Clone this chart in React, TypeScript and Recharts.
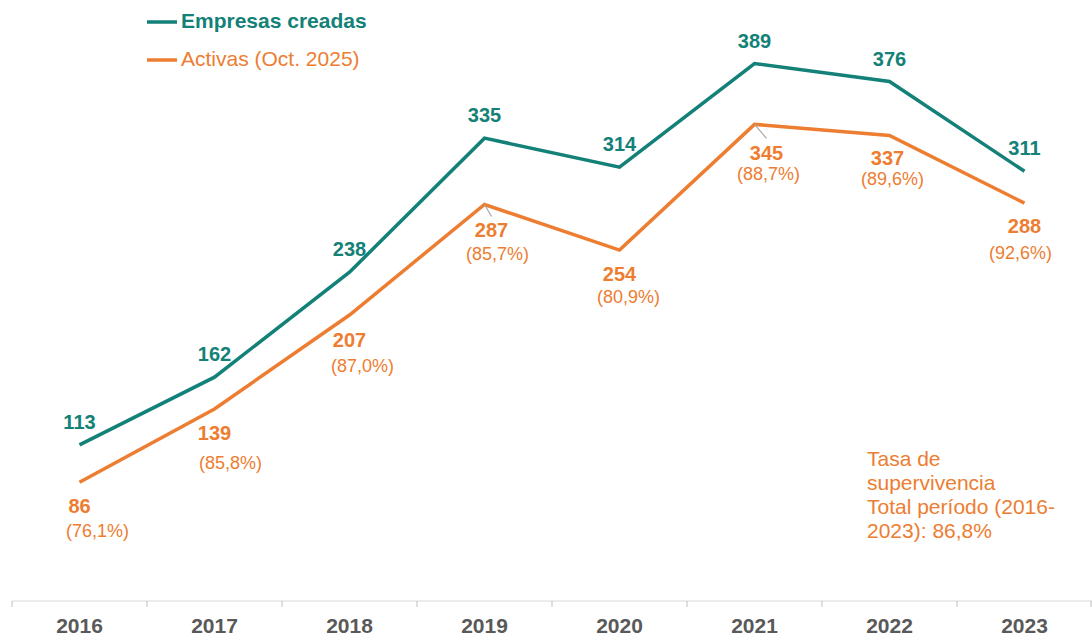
import { LineChart, Line, XAxis, YAxis, LabelList } from 'recharts';

const years = ['2016', '2017', '2018', '2019', '2020', '2021', '2022', '2023'];
const created = [113, 162, 238, 335, 314, 389, 376, 311];
const active = [86, 139, 207, 287, 254, 345, 337, 288];

const TEAL = '#138178';
const ORANGE = '#ED7D31';
const GREY = '#595959';
const FONT = '"Liberation Sans", Arial, sans-serif';

const W = 1092;
const H = 638;
const LEFT = 12;
const X_AXIS_H = 37;
const AXIS_Y = H - X_AXIS_H;
const BAND = (W - LEFT) / years.length;

// labels of the orange series were moved by hand in the original
const valueNudge = [[0, 31], [0, 31], [0, 32], [7, 33], [0, 31], [12, 36], [-2, 30], [0, 30]];
const rateNudge = [[18, 55], [16, 60], [13, 57], [13, 56], [9, 53], [14, 56], [3, 50], [-4, 56]];
const leaders: Record<number, [number, number]> = { 3: [7, 12], 5: [12, 14] };

const pct = (n: number) => n.toFixed(1).replace('.', ',') + '%';
const sum = (a: number[]) => a.reduce((s, v) => s + v, 0);

const data = years.map((year, i) => ({
  year,
  created: created[i],
  active: active[i],
  rate: (active[i] / created[i]) * 100,
}));
const totalRate = (sum(active) / sum(created)) * 100;

const CreatedLabel = (props: any) => {
  const { x, y, value } = props;
  return (
    <text x={x} y={y - 16} textAnchor="middle" fill={TEAL} fontSize={20} fontWeight="bold" fontFamily={FONT}>
      {value}
    </text>
  );
};

const ActiveLabel = (props: any) => {
  const { x, y, value } = props;
  const i = props.index ?? active.indexOf(value);
  const [vx, vy] = valueNudge[i];
  const [rx, ry] = rateNudge[i];
  const lead = leaders[i];
  return (
    <g>
      {lead && <line x1={x} y1={y} x2={x + lead[0]} y2={y + lead[1]} stroke="#A6A6A6" strokeWidth={1.2} />}
      <text x={x + vx} y={y + vy} textAnchor="middle" fill={ORANGE} fontSize={20} fontWeight="bold" fontFamily={FONT}>
        {value}
      </text>
      <text x={x + rx} y={y + ry} textAnchor="middle" fill={ORANGE} fontSize={18} fontFamily={FONT}>
        ({pct(data[i].rate)})
      </text>
    </g>
  );
};

const YearTick = (props: any) => {
  const { x, y, payload, index } = props;
  const left = x - BAND / 2;
  return (
    <g>
      <line x1={left} y1={AXIS_Y} x2={left} y2={AXIS_Y + 6} stroke="#BFBFBF" />
      {index === years.length - 1 && (
        <line x1={x + BAND / 2 - 1} y1={AXIS_Y} x2={x + BAND / 2 - 1} y2={AXIS_Y + 6} stroke="#BFBFBF" />
      )}
      <text x={x} y={y + 24} textAnchor="middle" fill={GREY} fontSize={21} fontWeight="bold" fontFamily={FONT}>
        {payload.value}
      </text>
    </g>
  );
};

export default function App() {
  const noteLines = [
    'Tasa de',
    'supervivencia',
    `Total período (${years[0]}-`,
    `${years[years.length - 1]}): ${pct(totalRate)}`,
  ];
  return (
    <div style={{ position: 'absolute', left: 0, top: 0, width: W, height: H, background: '#fff' }}>
      <LineChart width={W} height={H} data={data} margin={{ top: 0, right: 0, left: LEFT, bottom: 0 }}>
        <XAxis
          dataKey="year"
          height={X_AXIS_H}
          axisLine={{ stroke: '#D9D9D9', strokeWidth: 1 }}
          tickLine={false}
          tick={<YearTick />}
          interval={0}
          padding={{ left: BAND / 2, right: BAND / 2 }}
        />
        <YAxis hide width={0} domain={[0, 435]} />
        <Line type="linear" dataKey="created" stroke={TEAL} strokeWidth={3.5} dot={false} isAnimationActive={false}>
          <LabelList dataKey="created" content={<CreatedLabel />} />
        </Line>
        <Line type="linear" dataKey="active" stroke={ORANGE} strokeWidth={3.5} dot={false} isAnimationActive={false}>
          <LabelList dataKey="active" content={<ActiveLabel />} />
        </Line>
      </LineChart>
      <svg width={W} height={H} style={{ position: 'absolute', left: 0, top: 0, pointerEvents: 'none' }}>
        <line x1={147} y1={22} x2={177} y2={22} stroke={TEAL} strokeWidth={3.5} />
        <text x={181} y={28} fill={TEAL} fontSize={21} fontWeight="bold" fontFamily={FONT}>
          Empresas creadas
        </text>
        <line x1={147} y1={60} x2={177} y2={60} stroke={ORANGE} strokeWidth={3.5} />
        <text x={181} y={66} fill={ORANGE} fontSize={21} fontFamily={FONT}>
          Activas (Oct. 2025)
        </text>
        {noteLines.map((t, i) => (
          <text key={i} x={867} y={466 + i * 24} fill={ORANGE} fontSize={21} fontFamily={FONT}>
            {t}
          </text>
        ))}
      </svg>
    </div>
  );
}
